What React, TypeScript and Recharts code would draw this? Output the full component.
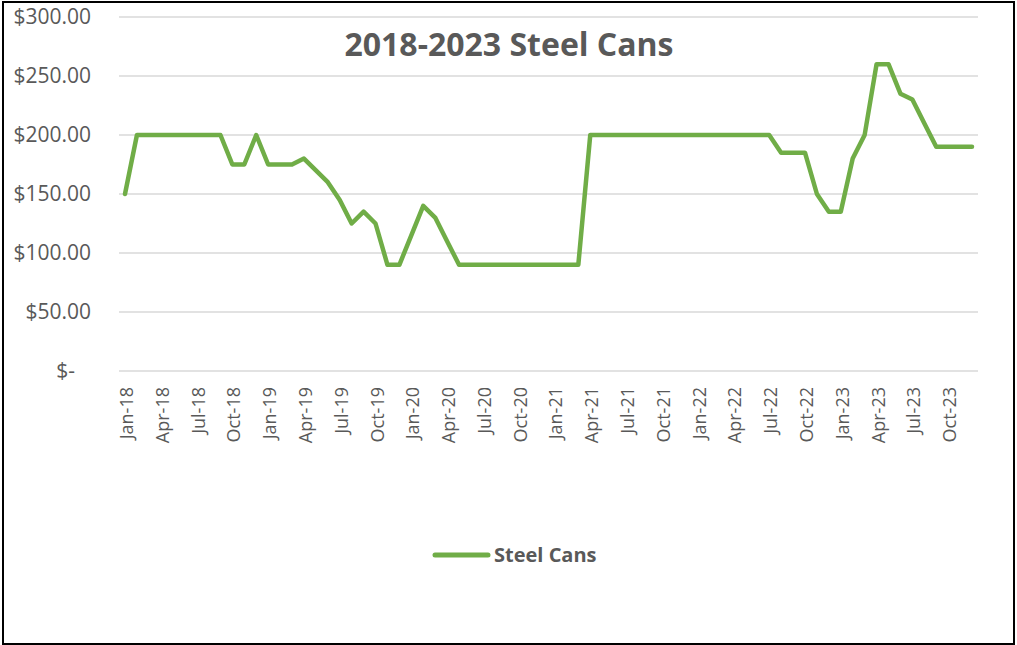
import React from 'react';
import { LineChart, Line, XAxis, YAxis, CartesianGrid, Legend } from 'recharts';

const MONTHS = ['Jan', 'Feb', 'Mar', 'Apr', 'May', 'Jun', 'Jul', 'Aug', 'Sep', 'Oct', 'Nov', 'Dec'];
const YEARS = ['18', '19', '20', '21', '22', '23'];

// monthly price, Jan-18 .. Dec-23
const steelCans = [
  150, 200, 200, 200, 200, 200, 200, 200, 200, 175, 175, 200,
  175, 175, 175, 180, 170, 160, 145, 125, 135, 125, 90, 90,
  115, 140, 130, 110, 90, 90, 90, 90, 90, 90, 90, 90,
  90, 90, 90, 200, 200, 200, 200, 200, 200, 200, 200, 200,
  200, 200, 200, 200, 200, 200, 200, 185, 185, 185, 150, 135,
  135, 180, 200, 260, 260, 235, 230, 210, 190, 190, 190, 190,
];

const yTicks = [0, 50, 100, 150, 200, 250, 300];

const categories = YEARS.flatMap(y => MONTHS.map(m => `${m}-${y}`));
const data = categories.map((month, i) => ({ month, steel: steelCans[i] }));

const TEXT = '#595959';
const GREEN = '#70AD47';
const FONT = '"Open Sans", sans-serif';

const YTick = ({ x, y, payload }: any) => {
  const v = payload.value;
  const label = v === 0 ? '$-' : `$${v.toFixed(2)}`;
  return (
    <text x={v === 0 ? x - 16 : x} y={y} dy="0.35em" textAnchor="end" fill={TEXT} fontSize={21} fontFamily={FONT}>
      {label}
    </text>
  );
};

const XTick = ({ x, y, payload }: any) => (
  <text
    x={x}
    y={y}
    dy={8}
    textAnchor="end"
    transform={`rotate(-90, ${x}, ${y})`}
    fill={TEXT}
    fontSize={18}
    fontFamily={FONT}
  >
    {payload.value}
  </text>
);

const LegendContent = () => (
  <div style={{ display: 'flex', alignItems: 'center', height: 26 }}>
    <svg width={59} height={8} style={{ marginRight: 3 }}>
      <line x1={3} y1={4} x2={56} y2={4} stroke={GREEN} strokeWidth={5} strokeLinecap="round" />
    </svg>
    <span style={{ fontFamily: FONT, fontWeight: 700, fontSize: 20, lineHeight: '26px', color: TEXT }}>Steel Cans</span>
  </div>
);

export default function App() {
  return (
    <div style={{ position: 'absolute', top: 0, left: 0, width: 1017, height: 645, background: '#fff' }}>
      <LineChart width={1017} height={645} data={data} margin={{ top: 17, right: 39, left: 0, bottom: 30 }}>
        <CartesianGrid vertical={false} stroke="#d9d9d9" strokeWidth={1.5} />
        <XAxis
          dataKey="month"
          interval={2}
          padding={{ left: 6, right: 6 }}
          axisLine={false}
          tickLine={false}
          tickSize={0}
          tickMargin={16}
          height={244}
          tick={<XTick />}
        />
        <YAxis
          domain={[0, 300]}
          ticks={yTicks}
          axisLine={false}
          tickLine={false}
          tickSize={0}
          tickMargin={28}
          width={119}
          tick={<YTick />}
        />
        <Legend
          layout="horizontal"
          verticalAlign="middle"
          align="center"
          wrapperStyle={{ position: 'absolute', top: 542, left: 432, width: 'auto' }}
          content={<LegendContent />}
        />
        <Line
          type="linear"
          dataKey="steel"
          name="Steel Cans"
          stroke={GREEN}
          strokeWidth={4.5}
          strokeLinejoin="round"
          strokeLinecap="round"
          dot={false}
          activeDot={false}
          isAnimationActive={false}
        />
      </LineChart>
      <svg width={1017} height={645} style={{ position: 'absolute', top: 0, left: 0, pointerEvents: 'none' }}>
        <text x={509} y={56} textAnchor="middle" fill={TEXT} fontSize={32} fontWeight={700} fontFamily={FONT}>
          2018-2023 Steel Cans
        </text>
        <rect x={3} y={2} width={1011} height={642} fill="none" stroke="#000" strokeWidth={2} />
      </svg>
    </div>
  );
}
